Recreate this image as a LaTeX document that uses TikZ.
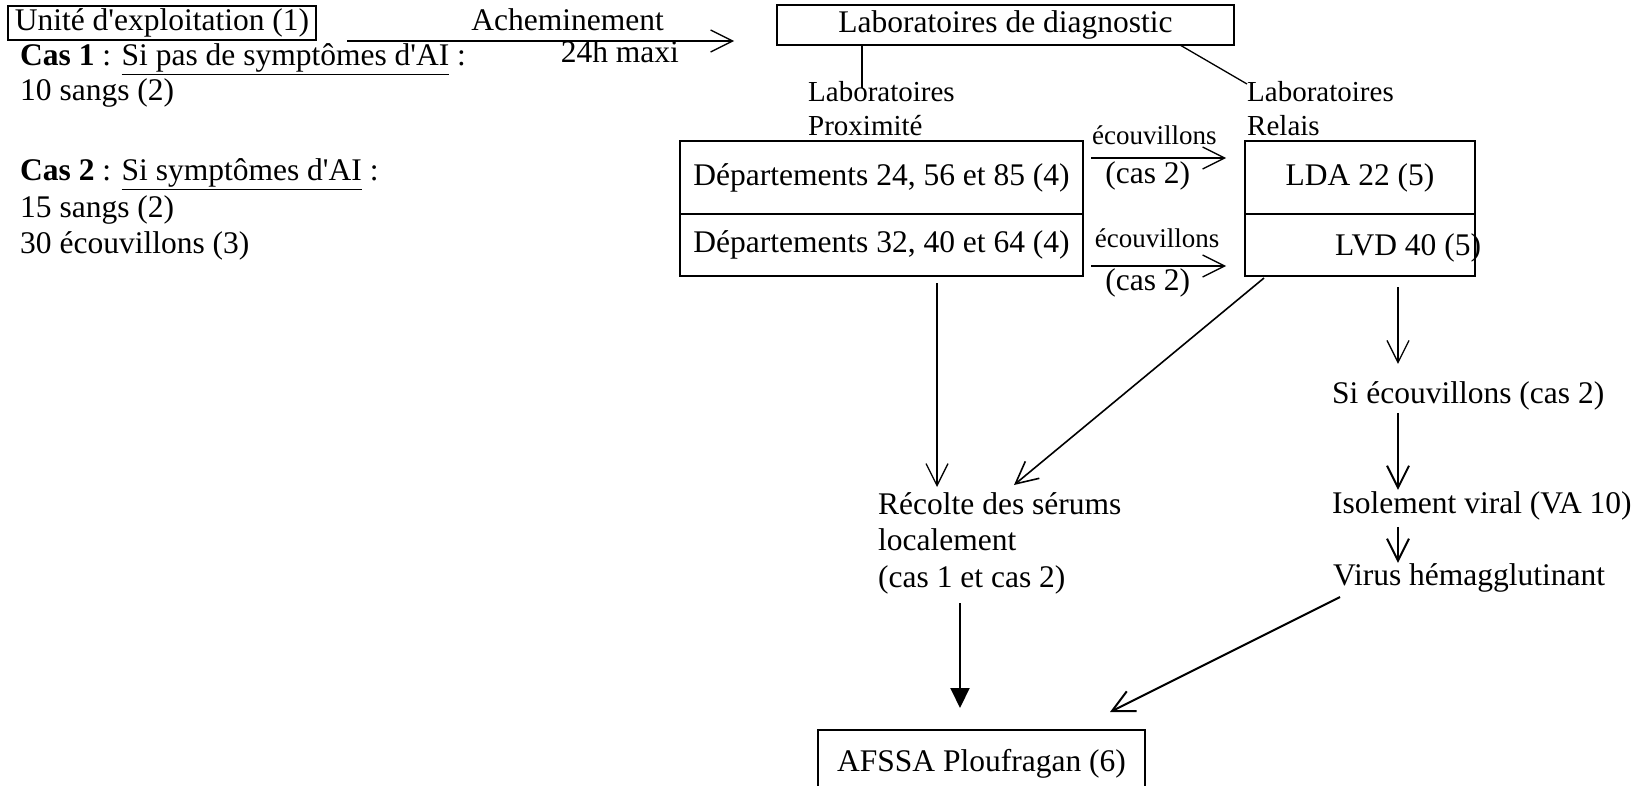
\documentclass[tikz,border=0pt]{standalone}
\usepackage{fontspec}
\setmainfont{Liberation Serif}
\usetikzlibrary{arrows.meta}

\newcommand{\mainsize}{\fontsize{31.5pt}{35.5pt}\selectfont}
\newcommand{\listsize}{\fontsize{31.5pt}{36.5pt}\selectfont}
\newcommand{\labsize}{\fontsize{29pt}{34pt}\selectfont}
\newcommand{\swabsize}{\fontsize{27pt}{30pt}\selectfont}

\begin{document}
\begin{tikzpicture}[x=1pt, y=-1pt,
font=\mainsize,
block/.style={draw, line width=1.7pt, rectangle, inner sep=0pt, outer sep=0pt, anchor=north west},
txt/.style={inner sep=0pt, anchor=base west},
multi/.style={inner sep=0pt, anchor=north west, align=left},
lbl/.style={inner sep=0pt},
arr/.style={-{Straight Barb[length=22pt, width=22pt]}, line width=1.3pt},
arrthick/.style={arr, line width=2pt}]

\useasboundingbox (0,0) rectangle (1645,786);

\node[block, minimum width=308pt, minimum height=34pt] (unite) at (8,6) {Unité d\textquotesingle exploitation (1)};
\node[txt] (cas1) at (20,66) {\textbf{Cas 1} : \underline{Si pas de symptômes d\textquotesingle AI} :};
\node[txt] (sang1) at (20,101) {10 sangs (2)};
\node[multi, font=\listsize] (cas2) at (20,158.5) {\textbf{Cas 2} : \underline{Si symptômes d\textquotesingle AI} :\\15 sangs (2)\\30 écouvillons (3)};

\node[block, minimum width=457pt, minimum height=40pt] (diag) at (777,5) {Laboratoires de diagnostic};
\node[multi, font=\labsize] (prox) at (808,81) {Laboratoires\\Proximité};
\node[multi, font=\labsize] (relais) at (1247,81) {Laboratoires\\Relais};

\node[block, minimum width=403pt, minimum height=73pt] (dep1) at (680,141) {Départements 24, 56 et 85 (4)};
\node[block, minimum width=403pt, minimum height=62pt] (dep2) at (dep1.south west) {Départements 32, 40 et 64 (4)};
\node[block, minimum width=230pt, minimum height=73pt] (lda) at (1245,141) {LDA 22 (5)};
\node[block, minimum width=230pt, minimum height=62pt] (lvd) at (lda.south west) {};
\node[txt] (lvdtxt) at (1335,255) {LVD 40 (5)};

\node[multi, font=\fontsize{31.5pt}{36.5pt}\selectfont] (recolte) at (878,492) {Récolte des sérums\\localement\\(cas 1 et cas 2)};
\node[txt] (si) at (1332,403) {Si écouvillons (cas 2)};
\node[txt] (isol) at (1332,513) {Isolement viral (VA 10)};
\node[txt] (virus) at (1333,585) {Virus hémagglutinant};

\node[block, minimum width=327pt, minimum height=68pt] (afssa) at (818,730) {AFSSA Ploufragan (6)};

\coordinate (ax) at (937,0);
\coordinate (rx) at (1398,0);
\coordinate (fx) at (960,0);

\path
 ([xshift=31pt, yshift=-1pt]unite.south east) edge[arr] node[lbl, pos=0.57, above=10pt] (achem) {Acheminement}
   node[lbl, pos=0.705, below=-1pt] (maxi) {24h maxi} ([xshift=-43pt, yshift=4pt]diag.south west)
 ([xshift=85pt]diag.south west) edge[line width=1.3pt] ([xshift=54pt, yshift=-7pt]prox.north west)
 ([xshift=-54pt]diag.south east) edge[line width=1.3pt] ([yshift=-3pt]relais.north west)

 ([xshift=8pt, yshift=19.5pt]dep1.east) edge[arr] node[lbl, font=\swabsize, pos=0.47, above=13pt] {écouvillons}
   node[lbl, pos=0.42, below=3pt] {(cas 2)} ([xshift=-19pt, yshift=19.5pt]lda.west)
 ([xshift=8pt, yshift=-21pt]dep2.east) edge[arr] node[lbl, font=\swabsize, pos=0.49, above=18pt] {écouvillons}
   node[lbl, pos=0.42, below=2pt] {(cas 2)} ([xshift=-19pt, yshift=-21pt]lvd.west)

 (dep2.south -| ax) edge[arr, shorten <=7pt, shorten >=5pt] (recolte.north -| ax)
 ([xshift=19pt, yshift=-2pt]lvd.south west) edge[arr, line width=1.6pt] ([xshift=136pt, yshift=7pt]recolte.north west)
 (lvd.south -| rx) edge[arr, shorten <=11pt, shorten >=17pt] (si.north -| rx)
 (si.south -| rx) edge[arrthick, shorten <=3pt, shorten >=1pt] (isol.north -| rx)
 (isol.south -| rx) edge[arrthick, shorten <=7pt] (virus.north -| rx)

 (recolte.south -| fx) edge[-{Triangle[length=20pt, width=19pt]}, line width=2pt, shorten <=9pt, shorten >=22pt] (afssa.north -| fx)
 ([xshift=7pt, yshift=-5pt]virus.south west) edge[arrthick] ([xshift=-35pt, yshift=18pt]afssa.north east);

\end{tikzpicture}
\end{document}
